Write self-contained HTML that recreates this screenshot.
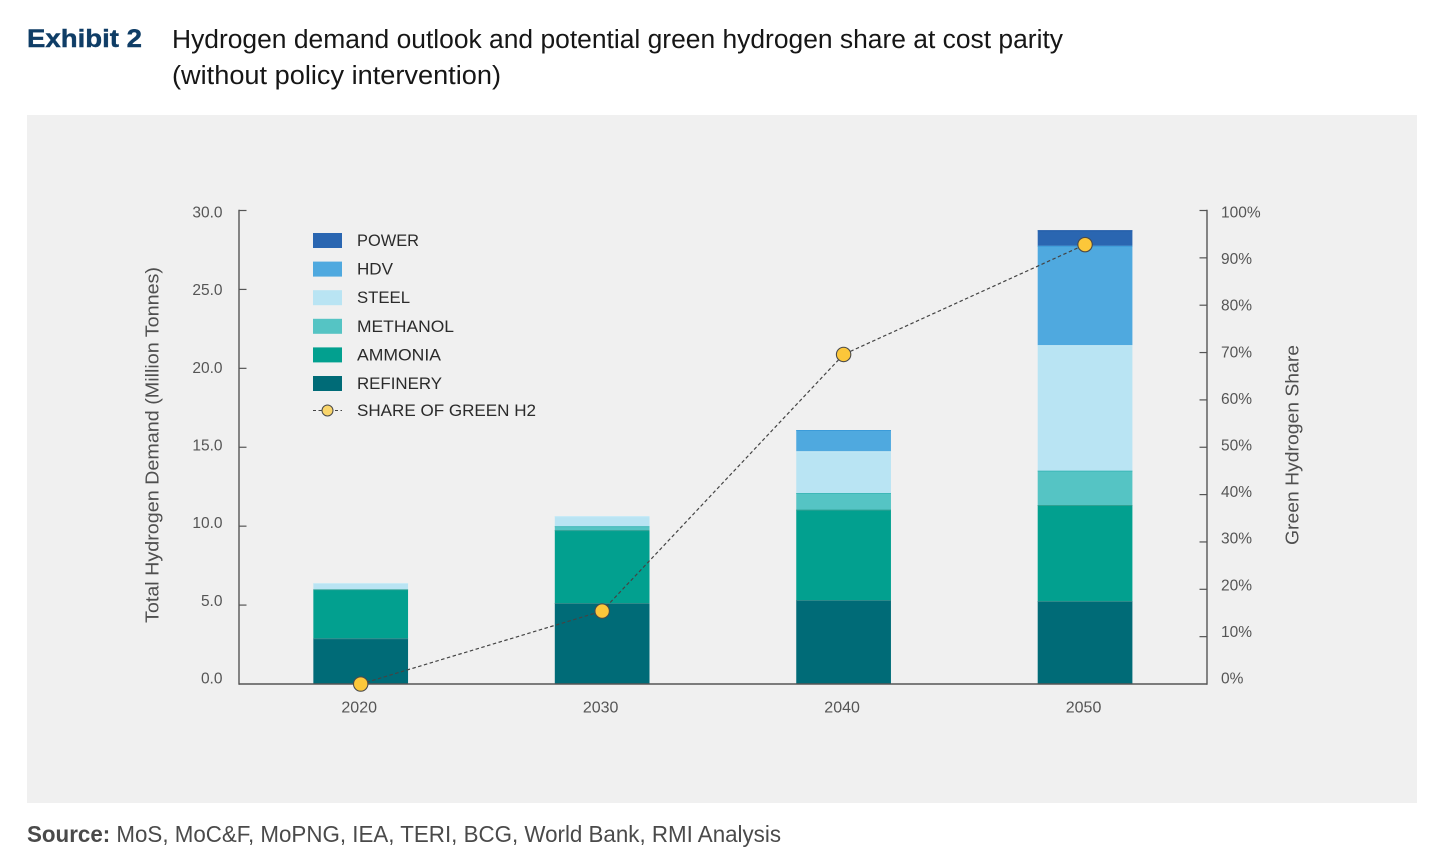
<!DOCTYPE html>
<html lang="en">
<head>
<meta charset="utf-8">
<title>Exhibit 2</title>
<style>
html,body{margin:0;padding:0;background:#fff;width:1456px;height:856px;overflow:hidden}
svg{display:block}
text{font-family:"Liberation Sans",sans-serif}
</style>
</head>
<body>
<svg id="chart" xmlns="http://www.w3.org/2000/svg" width="1456" height="856" viewBox="0 0 1456 856">
  <rect x="0" y="0" width="1456" height="856" fill="#ffffff"/>
  <text x="27" y="47" font-size="25" font-weight="700" fill="#0f3d66" stroke="#0f3d66" stroke-width="0.4" textLength="115" lengthAdjust="spacingAndGlyphs">Exhibit 2</text>
  <text x="172" y="48" font-size="25.5" fill="#161616" textLength="891" lengthAdjust="spacingAndGlyphs">Hydrogen demand outlook and potential green hydrogen share at cost parity</text>
  <text x="172" y="84" font-size="25.5" fill="#161616" textLength="329" lengthAdjust="spacingAndGlyphs">(without policy intervention)</text>
  <rect x="27" y="115" width="1390" height="688" fill="#f0f0f0"/>
  <g id="bars"></g>
  <g id="axes"></g>
  <g id="line"></g>
  <g id="legend">
    <text x="357" y="246" font-size="17" fill="#2b2b2b" textLength="62" lengthAdjust="spacingAndGlyphs">POWER</text>
    <text x="357" y="274.6" font-size="17" fill="#2b2b2b" textLength="36" lengthAdjust="spacingAndGlyphs">HDV</text>
    <text x="357" y="303.2" font-size="17" fill="#2b2b2b" textLength="53" lengthAdjust="spacingAndGlyphs">STEEL</text>
    <text x="357" y="331.8" font-size="17" fill="#2b2b2b" textLength="97" lengthAdjust="spacingAndGlyphs">METHANOL</text>
    <text x="357" y="360.4" font-size="17" fill="#2b2b2b" textLength="84" lengthAdjust="spacingAndGlyphs">AMMONIA</text>
    <text x="357" y="389" font-size="17" fill="#2b2b2b" textLength="85" lengthAdjust="spacingAndGlyphs">REFINERY</text>
    <text x="357" y="416" font-size="17" fill="#2b2b2b" textLength="179" lengthAdjust="spacingAndGlyphs">SHARE OF GREEN H2</text>
  </g>
  <text transform="translate(158.5,445) rotate(-90)" text-anchor="middle" font-size="18.5" fill="#4f4f4f" textLength="356" lengthAdjust="spacingAndGlyphs">Total Hydrogen Demand (Million Tonnes)</text>
  <text transform="translate(1298.5,445) rotate(-90)" text-anchor="middle" font-size="18.5" fill="#4f4f4f" textLength="200" lengthAdjust="spacingAndGlyphs">Green Hydrogen Share</text>
  <text x="27" y="842" font-size="23" fill="#4a4a4a" textLength="754" lengthAdjust="spacingAndGlyphs"><tspan font-weight="700">Source:</tspan> MoS, MoC&amp;F, MoPNG, IEA, TERI, BCG, World Bank, RMI Analysis</text>
</svg>
<script>
const categories = ['2020', '2030', '2040', '2050'];
const refinery = [2.9, 5.13, 5.32, 5.26];
const ammonia = [3.1, 4.62, 5.73, 6.08];
const methanol = [0, 0.25, 1.05, 2.18];
const steel = [0.4, 0.64, 2.65, 7.95];
const hdv = [0, 0, 1.34, 6.3];
const power = [0, 0, 0, 0.98];
const greenShare = [0, 15.4, 69.6, 92.8];
const leftTicks = [0, 5, 10, 15, 20, 25, 30];
const rightTicks = [0, 10, 20, 30, 40, 50, 60, 70, 80, 90, 100];

const seriesNames = ['refinery', 'ammonia', 'methanol', 'steel', 'hdv', 'power'];
const seriesValues = [refinery, ammonia, methanol, steel, hdv, power];
const seriesColors = ['#006b77', '#02a08f', '#55c4c4', '#b9e4f3', '#4fa9df', '#2a66b1'];
const seriesEdges = ['#2f8a8a', '#2f9f92', '#3cb7b7', '#c9ebf6', '#3b9bd9', '#1f5aa8'];
const legendKeys = ['power', 'hdv', 'steel', 'methanol', 'ammonia', 'refinery'];

const NS = 'http://www.w3.org/2000/svg';
const plotLeft = 239, plotRight = 1207, plotBottom = 684, plotTop = 210.5;
const barWidth = 94.7;
function xPos(i) { return 360.7 + 241.45 * i; }
function yLeft(v) { return plotBottom - (v / 30) * (plotBottom - plotTop); }
function yRight(v) { return plotBottom - (v / 100) * (plotBottom - plotTop); }
function labelY(frac) { return 683.5 - frac * 466; }
function make(tag, attrs, parent) {
  const el = document.createElementNS(NS, tag);
  for (const k in attrs) el.setAttribute(k, attrs[k]);
  parent.appendChild(el);
  return el;
}

const barsG = document.getElementById('bars');
categories.forEach(function (cat, i) {
  let total = 0;
  seriesValues.forEach(function (vals, s) {
    const v = vals[i];
    if (!v) return;
    const y1 = yLeft(total + v), y0 = yLeft(total);
    const r = make('rect', { x: xPos(i) - barWidth / 2, y: y1, width: barWidth, height: y0 - y1, fill: seriesColors[s] }, barsG);
    
    
    const e = make('line', { x1: xPos(i) - barWidth / 2, x2: xPos(i) + barWidth / 2, y1: y1 + 0.5, y2: y1 + 0.5, stroke: seriesEdges[s], 'stroke-width': 1 }, barsG);
    
    
    total += v;
  });
});

const axesG = document.getElementById('axes');
const axisColor = '#555555';
const labelColor = '#555555';
const leftAxis = make('line', { x1: plotLeft, x2: plotLeft, y1: plotTop - 0.7, y2: plotBottom + 0.7, stroke: axisColor, 'stroke-width': 1.4 }, axesG);


const rightAxis = make('line', { x1: plotRight, x2: plotRight, y1: plotTop - 0.7, y2: plotBottom + 0.7, stroke: axisColor, 'stroke-width': 1.4 }, axesG);


const baseAxis = make('line', { x1: plotLeft, x2: plotRight, y1: plotBottom, y2: plotBottom, stroke: axisColor, 'stroke-width': 1.4 }, axesG);



leftTicks.forEach(function (t) {
  const y = yLeft(t);
  if (t > 0) {
    const m = make('line', { x1: plotLeft, x2: plotLeft + 7.5, y1: y, y2: y, stroke: axisColor, 'stroke-width': 1.2 }, axesG);
    
    
  }
  const l = make('text', { x: 222.5, y: labelY(t / 30), 'text-anchor': 'end', 'font-size': 15.5, fill: labelColor }, axesG);
  
  
  l.textContent = t.toFixed(1);
});
rightTicks.forEach(function (t) {
  const y = yRight(t);
  if (t > 0) {
    const m = make('line', { x1: plotRight - 7.5, x2: plotRight, y1: y, y2: y, stroke: axisColor, 'stroke-width': 1.2 }, axesG);
    
    
  }
  const l = make('text', { x: 1221, y: labelY(t / 100), 'font-size': 15.5, fill: labelColor }, axesG);
  
  
  l.textContent = t + '%';
});
categories.forEach(function (cat, i) {
  const l = make('text', { x: xPos(i) - 1.5, y: 712.5, 'text-anchor': 'middle', 'font-size': 16, fill: labelColor }, axesG);
  
  
  l.textContent = cat;
});

const lineG = document.getElementById('line');
const pts = greenShare.map(function (v, i) { return xPos(i) + ',' + yRight(v); }).join(' ');
const shareLine = make('polyline', { points: pts, fill: 'none', stroke: '#444444', 'stroke-width': 1.2, 'stroke-dasharray': '3.5 2.5' }, lineG);


greenShare.forEach(function (v, i) {
  const c = make('circle', { cx: xPos(i), cy: yRight(v), r: 7.2, fill: '#fcc73a', stroke: '#4a4a4a', 'stroke-width': 1.1 }, lineG);
  
  
});

const legendG = document.getElementById('legend');
const legendColors = seriesColors.slice().reverse();
legendKeys.forEach(function (key, i) {
  const y = 240.5 + i * 28.6;
  const s = make('rect', { x: 313, y: y - 7.5, width: 29, height: 15, fill: legendColors[i] }, legendG);
  
  
});
const legLine = make('line', { x1: 313, x2: 342, y1: 410.5, y2: 410.5, stroke: '#444444', 'stroke-width': 1.1, 'stroke-dasharray': '3 2.5' }, legendG);


const legDot = make('circle', { cx: 327.5, cy: 410.5, r: 5.5, fill: '#f9d56b', stroke: '#4a4a4a', 'stroke-width': 1 }, legendG);


</script>
</body>
</html>
